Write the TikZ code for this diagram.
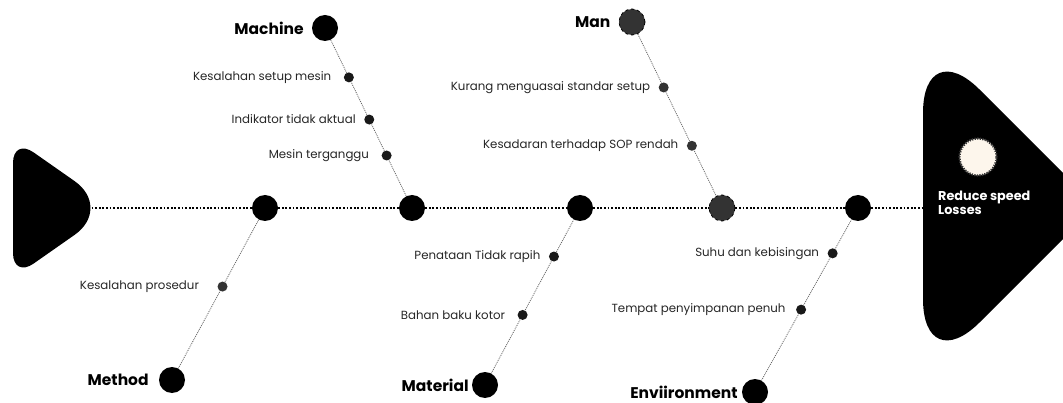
\documentclass[tikz,border=0pt]{standalone}
\usepackage{fontspec}
\setmainfont{Poppins}
\usetikzlibrary{positioning}
\definecolor{darkman}{HTML}{333333}
\definecolor{cream}{HTML}{FDF6EC}
\tikzset{
	joint/.style = {circle, fill=black, minimum size=26pt, inner sep=0pt},
	manjoint/.style = {joint, fill=darkman, draw=black, dashed, line width=.8pt},
	cause/.style = {circle, fill=black!90, minimum size=10pt, inner sep=0pt},
	bone/.style = {black!60, line width=.8pt, dash pattern=on 1pt off 1pt},
	spine/.style = {line width=2.6pt, dash pattern=on 1.8pt off 1.8pt},
	lbl/.style = {font=\fontsize{11.8}{14}\selectfont, text=black!85, inner sep=0pt},
	cat/.style = {font=\fontsize{15.5}{18}\selectfont\bfseries, inner sep=0pt},
}
\begin{document}
\begin{tikzpicture}[x=1pt, y=-1pt]
		\useasboundingbox (0,0) rectangle (1063,403);
		
		% tail and head of the fish
		\fill [rounded corners=25pt] (13,208) -- (13,138) [rounded corners=47pt] -- (113,208) [rounded corners=25pt] -- (13,278) -- cycle;
		\begin{scope}
		\clip (0,0) rectangle (1063,403);
		\fill [rounded corners=80pt] (923,206) -- (923,33) [rounded corners=30pt] -- (1096,206) [rounded corners=80pt] -- (923,379) -- cycle;
		\end{scope}
		\node (sun) at (978,157) [circle, fill=cream, draw=black!80, line width=2.2pt, dash pattern=on 1.3pt off 1.3pt, minimum size=37pt] {};
		\node (goal) at (938,191) [anchor=north west, text=white, align=left, inner sep=0pt, font=\fontsize{12.8}{14}\selectfont\bfseries] {Reduce speed\\Losses};
		
		\coordinate (tail) at (88,208);
		\coordinate (head) at (923,208);
		
		% spine
		\node (jMethod) at (265,208) [joint] {};
		\node (jMachine) at (412,208) [joint] {};
		\node (jMaterial) at (580,208) [joint] {};
		\node (jMan) at (722,208) [manjoint] {};
		\node (jEnv) at (858,208) [joint] {};
		\draw [spine] (tail) -- (jMethod) -- (jMachine) -- (jMaterial) -- (jMan) -- (jEnv) -- (head);
		
		% upper bones
		\node (Machine) at (325,28) [joint] {};
		\node (tMachine) [cat, left=8pt of Machine] {Machine};
		\draw [bone] (Machine) -- (jMachine)
			node [cause, pos=.24] (mc1) {}
			node [cause, pos=.51] (mc2) {}
			node [cause, pos=.74] (mc3) {};
		\node (tmc1) [lbl, left=12pt of mc1] {Kesalahan setup mesin};
		\node (tmc2) [lbl, left=8pt of mc2] {Indikator tidak aktual};
		\node (tmc3) [lbl, left=12pt of mc3] {Mesin terganggu};
		
		\node (Man) at (632,22) [manjoint] {};
		\node (tMan) [cat, left=8pt of Man] {Man};
		\draw [bone] (Man) -- (jMan)
			node [cause, fill=darkman, pos=.33] (mn1) {}
			node [cause, fill=darkman, pos=.69] (mn2) {};
		\node (tmn1) [lbl, left=8pt of mn1] {Kurang menguasai standar setup};
		\node (tmn2) [lbl, left=8pt of mn2] {Kesadaran terhadap SOP rendah};
		
		% lower bones
		\node (Method) at (172,380) [joint] {};
		\node (tMethod) [cat, left=10pt of Method] {Method};
		\draw [bone] (Method) -- (jMethod)
			node [cause, fill=darkman, pos=.55] (mt1) {};
		\node (tmt1) [lbl, left=18pt of mt1] {Kesalahan prosedur};
		
		\node (Material) at (485,385) [joint] {};
		\node (tMaterial) [cat, left=3pt of Material] {Material};
		\draw [bone] (Material) -- (jMaterial)
			node [cause, pos=.38] (ml1) {}
			node [cause, pos=.76] (ml2) {};
		\node (tml1) [lbl, left=12pt of ml1] {Bahan baku kotor};
		\node (tml2) [lbl, left=8pt of ml2] {Penataan Tidak rapih};
		
		\node (Env) at (755,392) [joint] {};
		\node (tEnv) [cat, left=4pt of Env] {Enviironment};
		\draw [bone] (Env) -- (jEnv)
			node [cause, pos=.44] (en1) {}
			node [cause, pos=.79] (en2) {};
		\node (ten1) [lbl, left=10pt of en1] {Tempat penyimpanan penuh};
		\node (ten2) [lbl, left=8pt of en2] {Suhu dan kebisingan};
\end{tikzpicture}
\end{document}
